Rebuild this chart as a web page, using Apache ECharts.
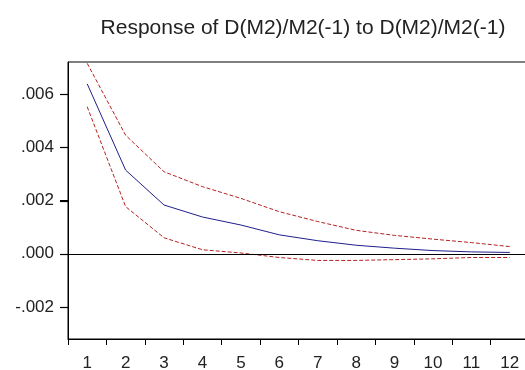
<!DOCTYPE html>
<html>
<head>
<meta charset="utf-8">
<script src="https://cdn.jsdelivr.net/npm/echarts@6/dist/echarts.min.js"></script>
<style>
  html, body { margin: 0; padding: 0; background: #fff; }
  #chart { width: 525px; height: 370px; }
</style>
</head>
<body>
<div id="chart"></div>
<script>
const periods = ['1', '2', '3', '4', '5', '6', '7', '8', '9', '10', '11', '12'];
const response = [0.00638, 0.00314, 0.00183, 0.00138, 0.00108, 0.00071, 0.00049, 0.00032, 0.00021, 0.00012, 0.00007, 0.00005];
const upperBand = [0.00715, 0.00445, 0.00308, 0.00252, 0.00208, 0.00158, 0.00121, 0.00088, 0.00069, 0.00055, 0.00042, 0.00027];
const lowerBand = [0.00552, 0.00177, 0.00060, 0.00015, 0.00003, -0.00014, -0.00025, -0.00025, -0.00022, -0.00019, -0.00014, -0.00014];
const yTicks = [-0.002, 0, 0.002, 0.004, 0.006];

const chart = echarts.init(document.getElementById('chart'));

const fmt = v => v.toFixed(3).replace('0.', '.');

// left-side y ticks, placed through the axes' own scales
const renderYTick = (params, api) => {
  const v = api.value(1);
  const a = api.coord([0, v]);
  const b = api.coord([1, v]);
  const x0 = a[0] - (b[0] - a[0]) / 2;
  const y = Math.round(a[1]) + 0.5;
  return {
    type: 'line',
    z2: 100,
    shape: { x1: x0 - 8, y1: y, x2: x0, y2: y },
    style: { stroke: '#000', lineWidth: 1.2 }
  };
};

chart.setOption({
  animation: false,
  textStyle: { fontFamily: 'Liberation Sans, Arial, sans-serif' },
  title: {
    text: 'Response of D(M2)/M2(-1) to D(M2)/M2(-1)',
    left: 298,
    top: 13,
    textAlign: 'center',
    textStyle: { fontSize: 21, fontWeight: 'normal', color: '#222' }
  },
  grid: {
    left: 68,
    top: 62,
    width: 461,
    height: 277,
    outerBoundsMode: 'none',
    containLabel: false,
    show: true,
    borderColor: '#000',
    borderWidth: 1
  },
  xAxis: {
    type: 'category',
    data: periods,
    boundaryGap: true,
    axisLine: { onZero: false, lineStyle: { color: '#000' } },
    axisTick: { show: true, length: 6, lineStyle: { color: '#000', width: 1 } },
    axisLabel: { fontSize: 17, color: '#222', margin: 16 },
    splitLine: { show: false }
  },
  yAxis: {
    type: 'value',
    min: -0.0032,
    max: 0.0072,
    axisLine: { show: true, lineStyle: { color: '#000' } },
    axisTick: { show: true, length: 8, customValues: yTicks, lineStyle: { color: '#000', width: 1 } },
    axisLabel: { fontSize: 17, color: '#222', margin: 14, customValues: yTicks, formatter: fmt },
    splitLine: { show: false }
  },
  series: [
    {
      name: 'upper',
      type: 'line',
      data: upperBand,
      showSymbol: false,
      lineStyle: { color: '#b22222', width: 1, type: [4, 2] }
    },
    {
      name: 'lower',
      type: 'line',
      data: lowerBand,
      showSymbol: false,
      lineStyle: { color: '#b22222', width: 1, type: [4, 2] }
    },
    {
      name: 'response',
      type: 'line',
      data: response,
      showSymbol: false,
      lineStyle: { color: '#1f1f8a', width: 1 },
      markLine: {
        silent: true,
        symbol: 'none',
        label: { show: false },
        lineStyle: { color: '#000', width: 1, type: 'solid' },
        data: [{ yAxis: 0 }]
      }
    },
    {
      name: 'yticks',
      type: 'custom',
      coordinateSystem: 'cartesian2d',
      silent: true,
      clip: false,
      z: 10,
      encode: { x: 0, y: 1 },
      renderItem: renderYTick,
      data: yTicks.map(v => [0, v])
    }
  ]
});
</script>
</body>
</html>
